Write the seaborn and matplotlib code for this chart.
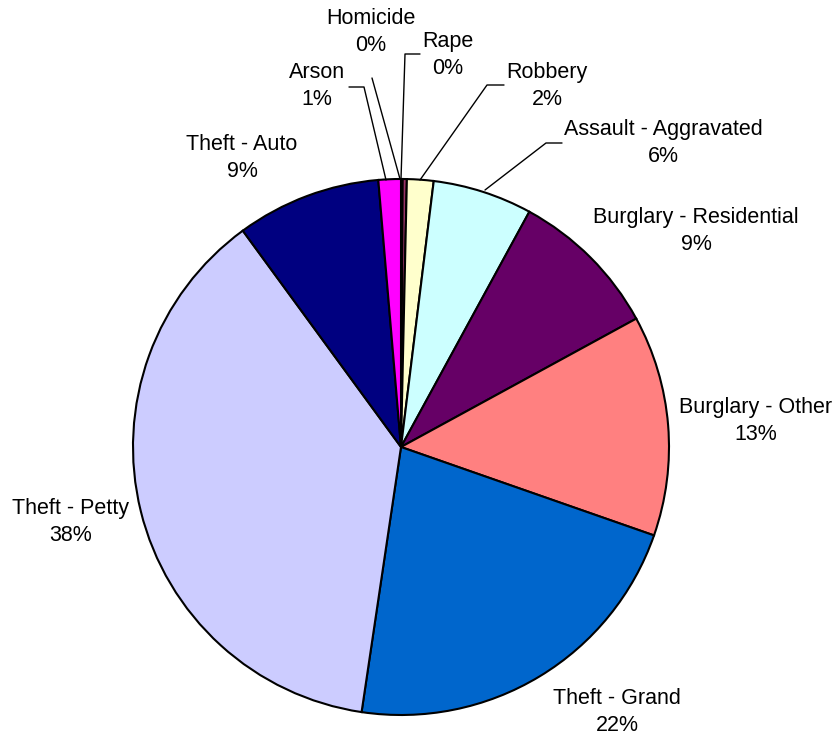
import numpy as np
import matplotlib
matplotlib.use("Agg")
import matplotlib.pyplot as plt
import seaborn as sns

# ---- data ----
categories = ["Homicide", "Rape", "Robbery", "Assault - Aggravated",
              "Burglary - Residential", "Burglary - Other", "Theft - Grand",
              "Theft - Petty", "Theft - Auto", "Arson"]
values = [0.1, 0.25, 1.6, 6.0, 9.1, 13.3, 22.0, 37.6, 8.7, 1.35]
pct_labels = ["0%", "0%", "2%", "6%", "9%", "13%", "22%", "38%", "9%", "1%"]
colors = ["#9999FF", "#993366", "#FFFFCC", "#CCFFFF", "#660066",
          "#FF8080", "#0066CC", "#CCCCFF", "#000080", "#FF00FF"]

# ---- layout (pixel coordinates, y from top) ----
W, H = 835, 736
CX, CY, R = 401, 447, 268
label_pos = {
    "Homicide": (371, 32), "Rape": (448, 55), "Robbery": (547, 86),
    "Assault - Aggravated": (663, 143), "Burglary - Residential": (696, 231),
    "Burglary - Other": (756, 421), "Theft - Grand": (617, 712),
    "Theft - Petty": (71, 522), "Theft - Auto": (242, 158), "Arson": (317, 86),
}
# leader lines: list of points (pixel coords) ending at wedge edge
leaders = {
    "Homicide": [(372, 78), (400, 179)],
    "Arson": [(349, 87), (364, 87), (386, 180)],
    "Rape": [(420, 54), (405, 54), (401, 179)],
    "Robbery": [(504, 85), (487, 85), (420, 180)],
    "Assault - Aggravated": [(562, 143), (546, 143), (485, 190)],
}

sns.set_theme(style="white")
plt.rcParams["font.family"] = ["Liberation Sans", "DejaVu Sans"]

fig = plt.figure(figsize=(W / 100, H / 100), dpi=100)
ax = fig.add_axes([0, 0, 1, 1])
ax.set_xlim(0, W)
ax.set_ylim(0, H)
ax.set_aspect("equal")
ax.axis("off")

ax.pie(values, colors=colors, startangle=90, counterclock=False,
       center=(CX, H - CY), radius=R, frame=True,
       wedgeprops=dict(edgecolor="black", linewidth=1.5))
ax.set_xlim(0, W)
ax.set_ylim(0, H)
ax.axis("off")

for cat, pl in zip(categories, pct_labels):
    x, y = label_pos[cat]
    ax.text(x, H - y, f"{cat}\n{pl}", ha="center", va="center",
            fontsize=15.5, linespacing=1.35, color="black")

for cat, pts in leaders.items():
    xs = [p[0] for p in pts]
    ys = [H - p[1] for p in pts]
    ax.plot(xs, ys, color="black", linewidth=1.0)

fig.savefig("out.png", dpi=100, facecolor="white")
